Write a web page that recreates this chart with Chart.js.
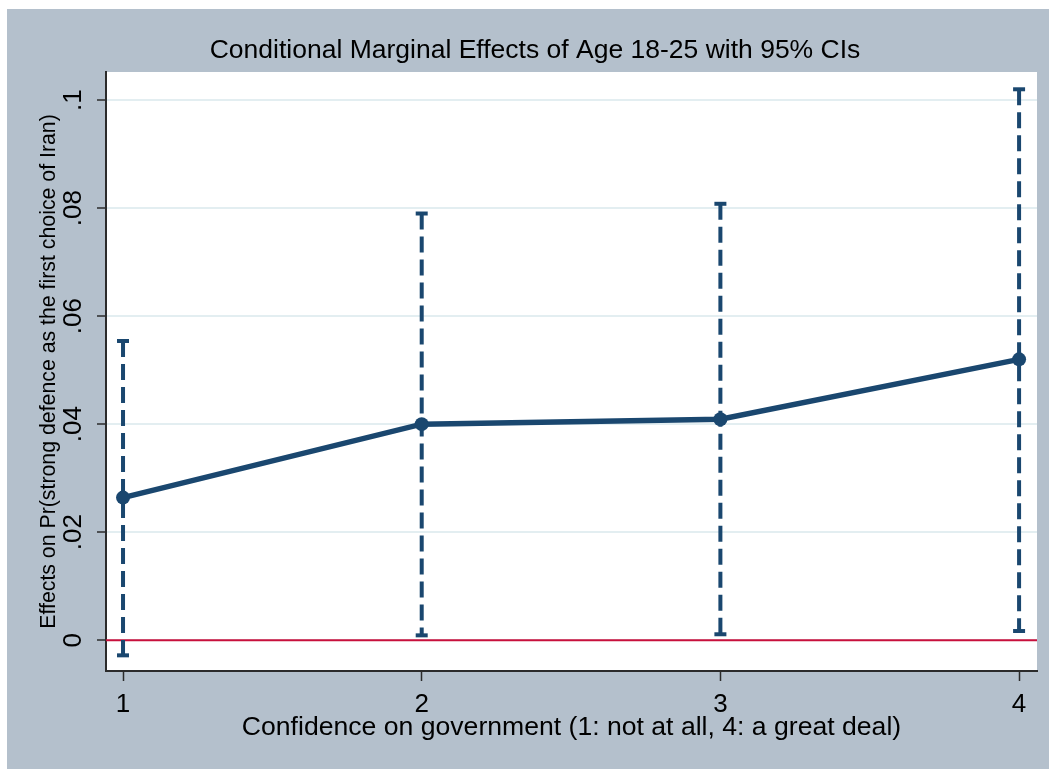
<!DOCTYPE html>
<html>
<head>
<meta charset="utf-8">
<script src="https://cdn.jsdelivr.net/npm/chart.js@4/dist/chart.umd.min.js"></script>
<style>
    html, body { margin: 0; padding: 0; background: #fff; }
    #wrap { position: absolute; left: 7px; top: 9px; width: 1042px; height: 760px; background: #b4c0cc; }
</style>
</head>
<body>
<div id="wrap"><canvas id="chart" width="1042" height="760"></canvas></div>
<script>
// --- data ---
const categories = [1, 2, 3, 4];
const effects = [0.0264, 0.0400, 0.0409, 0.0520];
const ciUpper = [0.0554, 0.0790, 0.0808, 0.1020];
const ciLower = [-0.0028, 0.0009, 0.0011, 0.0017];
const yTickValues = [0, 0.02, 0.04, 0.06, 0.08, 0.1];
const yTickLabels = ['0', '.02', '.04', '.06', '.08', '.1'];
const xTickValues = [1, 2, 3, 4];
const referenceY = 0;

// axis ranges
const X_MIN = 0.943, X_MAX = 4.06;
const Y_MIN = -0.0057, Y_MAX = 0.1052;

const NAVY = '#1a476f';
const RED = '#c8103c';
const AXIS = '#2b2b2b';
const GRID = '#e3eef1';
const FONT = 'Liberation Sans, Arial, Helvetica, sans-serif';

// white plot region
const plotBg = {
    id: 'plotBg',
    beforeDraw(chart) {
        const { ctx, chartArea: a } = chart;
        ctx.save();
        ctx.fillStyle = '#fff';
        ctx.fillRect(a.left, a.top, a.right - a.left, a.bottom - a.top);
        ctx.restore();
    }
};

// one dashed dataset per confidence interval, capped with a horizontal "line" point
const ciSets = categories.map((c, i) => ({
    data: [{ x: c, y: ciUpper[i] }, { x: c, y: ciLower[i] }],
    borderColor: NAVY,
    borderWidth: 4,
    borderDash: [16, 7],
    pointStyle: 'line',
    pointRadius: 6,
    pointBorderWidth: 4,
    pointBorderColor: NAVY,
    order: 1
}));

new Chart(document.getElementById('chart'), {
    type: 'line',
    data: {
        datasets: [
            {
                data: categories.map((c, i) => ({ x: c, y: effects[i] })),
                borderColor: NAVY,
                borderWidth: 5.5,
                pointRadius: 7,
                pointBackgroundColor: NAVY,
                pointBorderWidth: 0,
                order: 0
            },
            ...ciSets,
            {
                data: [{ x: X_MIN, y: referenceY }, { x: X_MAX, y: referenceY }],
                borderColor: RED,
                borderWidth: 2,
                pointRadius: 0,
                order: 2
            }
        ]
    },
    options: {
        responsive: false,
        devicePixelRatio: 1,
        animation: false,
        layout: { padding: { left: 26, right: 12, top: 0, bottom: 0 } },
        plugins: {
            legend: { display: false },
            tooltip: { enabled: false },
            title: {
                display: true,
                text: 'Conditional Marginal Effects of Age 18-25 with 95% CIs',
                color: '#000',
                font: { family: FONT, size: 26.5, weight: 'normal' },
                padding: { top: 26, bottom: 5.2 }
            }
        },
        scales: {
            x: {
                type: 'linear',
                min: X_MIN,
                max: X_MAX,
                afterBuildTicks: s => { s.ticks = xTickValues.map(v => ({ value: v })); },
                afterFit: s => { s.height = 98; },
                grid: { drawOnChartArea: false, tickLength: 10, tickColor: AXIS, tickWidth: 1.5 },
                border: { color: AXIS, width: 2 },
                ticks: { color: '#000', font: { family: FONT, size: 26 }, padding: 8, maxRotation: 0 },
                title: {
                    display: true,
                    text: 'Confidence on government (1: not at all, 4: a great deal)',
                    color: '#000',
                    font: { family: FONT, size: 26.6 },
                    padding: { top: 0, bottom: 25 }
                }
            },
            y: {
                type: 'linear',
                min: Y_MIN,
                max: Y_MAX,
                afterBuildTicks: s => { s.ticks = yTickValues.map(v => ({ value: v })); },
                afterFit: s => { s.width = 73; },
                grid: { color: GRID, lineWidth: 2, tickLength: 9, tickColor: AXIS, tickWidth: 1.5 },
                border: { color: AXIS, width: 2 },
                ticks: {
                    color: '#000',
                    font: { family: FONT, size: 26 },
                    minRotation: 90,
                    maxRotation: 90,
                    crossAlign: 'center',
                    padding: 5,
                    callback: (v) => yTickLabels[yTickValues.indexOf(v)] ?? ''
                },
                title: {
                    display: true,
                    text: 'Effects on Pr(strong defence as the first choice of Iran)',
                    color: '#000',
                    font: { family: FONT, size: 21.3 },
                    padding: { top: 3, bottom: 0 }
                }
            }
        }
    },
    plugins: [plotBg]
});
</script>
</body>
</html>
